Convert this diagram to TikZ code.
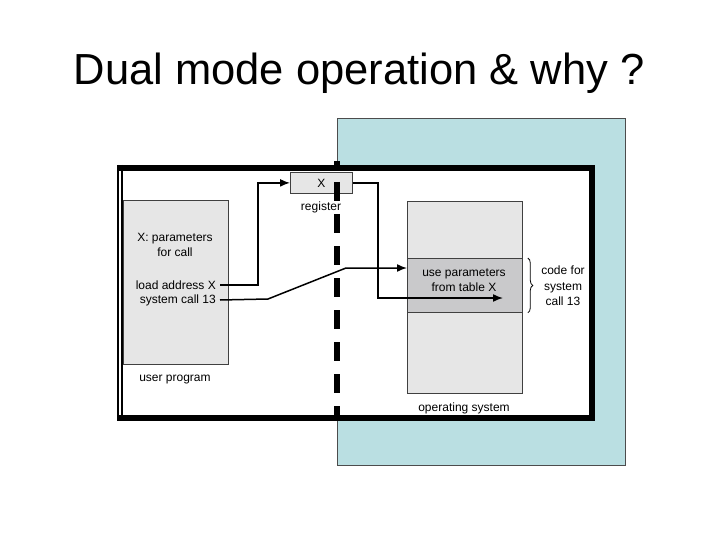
\documentclass[tikz,border=0pt]{standalone}
\usepackage{fontspec}
\setmainfont{Liberation Sans}
\usetikzlibrary{arrows.meta,positioning,calc,decorations.pathreplacing}
\definecolor{noyau}{HTML}{BADFE2}
\definecolor{boite}{HTML}{E6E6E6}
\definecolor{bandgris}{HTML}{C9C9CB}
\tikzset{
  memblock/.style={rectangle, draw=black!75, line width=0.8pt, fill=#1,
                   inner sep=0pt, anchor=north west},
  lbl/.style={font=\fontsize{12}{15.5}\selectfont, align=center, inner sep=0pt},
  arr/.style={-{Latex[length=10pt,width=8pt]}, line width=1.5pt},
}
\begin{document}
\begin{tikzpicture}[x=1pt,y=-1pt]
        \useasboundingbox (0,0) rectangle (720,540);
        \node[font=\fontsize{43.5}{50}\selectfont, anchor=base] (titre) at (359,85)
          {Dual mode operation \& why ?};
        % zone noyau et cadre
        \draw[black!70, line width=0.6pt, fill=noyau] (337,118) rectangle (625,465);
        \fill[white] (118,165) rectangle (595,421);
        \draw[line width=6.5pt] (117,168) -- (592,168) -- (592,418) -- (117,418);
        \draw[line width=1.4pt] (118,165) -- (118,421);
        \draw[line width=1.4pt] (122,165) -- (122,421);
        % blocs memoire
        \node[memblock=boite, minimum width=105pt, minimum height=164pt] (user) at (123,200) {};
        \node[memblock=boite, minimum width=62pt, minimum height=21pt, font=\fontsize{12}{14}\selectfont]
          (reg) at (290,172) {X};
        \node[memblock=boite, minimum width=115pt, minimum height=192pt] (os) at (407,201) {};
        \node[memblock=bandgris, minimum width=115pt, minimum height=54pt] (tbl) at (407,258) {};
        % textes
        \node[lbl] (par) at (175,245) {X: parameters\\for call};
        \node[lbl, anchor=east] (ldx) at (216,285) {load address X};
        \node[lbl, anchor=east] (sc13) at (216,300) {system call 13};
        \node[lbl] (uprog) at (175,380) {user program};
        \node[lbl] (regl) at (321,207) {register};
        \node[lbl] (usep) at (464,280) {use parameters\\from table X};
        \node[lbl] (code) at (563,286) {code for\\system\\call 13};
        \node[lbl] (osl) at (464,408) {operating system};
        \draw[decorate, decoration={brace, amplitude=5pt}, line width=0.8pt]
          ([xshift=5pt]tbl.north east) -- ([xshift=5pt]tbl.south east);
        % connecteurs
        \coordinate (tip) at (503,298);
        \draw[arr] ([xshift=4pt]ldx.east) -- ++(38,0) |- (reg.west);
        \draw[arr] ([xshift=4pt]sc13.east) -- (268,299) -- (346,268) -- ($(tbl.north west)+(0,10)$);
        \draw[arr] (reg.east) -| (378,298) -- (tip);
        % frontiere des modes
        \draw[line width=6pt, dash pattern=on 19pt off 13pt, dash phase=11pt] (337,161) -- (337,421);
      \end{tikzpicture}
\end{document}
